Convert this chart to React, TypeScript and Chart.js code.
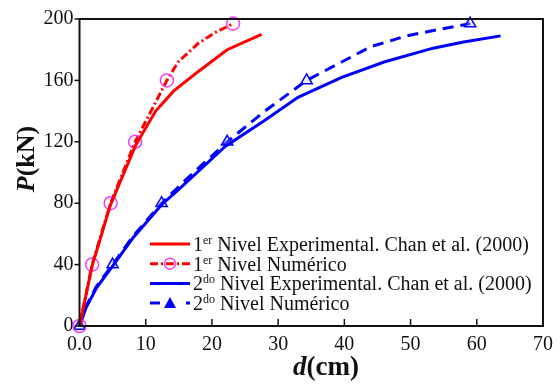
import React, { useEffect, useRef } from "react";
import { Chart, registerables } from "chart.js";

Chart.register(...registerables);

const redExpD = [0, 1.9, 4.6, 8.5, 11.5, 14.2, 18, 22.3, 27.5];
const redExpP = [0, 39, 78, 118, 140, 153, 166, 180, 190];

const redNumD = [0, 1.9, 4.7, 8.4, 13.2, 14.9, 17.9, 20.4, 22.3, 23.2];
const redNumP = [0, 40, 80, 120, 160, 172, 184, 191, 195, 197];
const redNumMarker = [1, 1, 1, 1, 1, 0, 0, 0, 0, 1];

const blueExpD = [0, 1, 2.6, 5, 8, 12.4, 15, 22, 28, 33, 39.6, 46, 53.4, 58, 63.6];
const blueExpP = [0, 12, 25, 39, 57, 79, 89, 117, 134, 149, 162, 172, 181, 185, 189];

const blueNumD = [0, 1, 2.6, 5, 8, 12.4, 16, 22.3, 28, 34.3, 39.6, 44, 49.4, 54, 59];
const blueNumP = [0, 13, 26, 40, 58, 80, 95, 120, 140, 160, 172, 182, 189, 193, 197];
const blueNumMarker = [1, 0, 0, 1, 0, 1, 0, 1, 0, 1, 0, 0, 0, 0, 1];

const xTicks = [0, 10, 20, 30, 40, 50, 60, 70];
const yTicks = [0, 40, 80, 120, 160, 200];

const legendNum = ["1", "1", "2", "2"];
const legendSup = ["er", "er", "do", "do"];
const legendRest = [
  " Nivel Experimental. Chan et al. (2000)",
  " Nivel Numérico",
  " Nivel Experimental. Chan et al. (2000)",
  " Nivel Numérico",
];

const SERIF = "Liberation Serif";
const RED = "#ff0000";
const MAGENTA = "#f040f0";
const BLUE = "#0000ff";

Chart.defaults.font.family = SERIF;

const pts = (d: number[], p: number[]) => d.map((x, i) => ({ x, y: p[i] }));

const decorPlugin = {
  id: "decor",
  afterDraw(chart: any) {
    const ctx = chart.ctx as CanvasRenderingContext2D;
    const a = chart.chartArea;
    const xs = chart.scales.x;
    const ys = chart.scales.y;
    ctx.save();
    ctx.strokeStyle = "#111";
    ctx.lineWidth = 2;
    ctx.strokeRect(a.left, a.top, a.right - a.left, a.bottom - a.top);
    ctx.lineWidth = 1.5;
    xTicks.forEach((v) => {
      const px = xs.getPixelForValue(v);
      ctx.beginPath();
      ctx.moveTo(px, a.bottom);
      ctx.lineTo(px, a.bottom - 7);
      ctx.stroke();
    });
    yTicks.forEach((v) => {
      const py = ys.getPixelForValue(v);
      ctx.beginPath();
      ctx.moveTo(a.left, py);
      ctx.lineTo(a.left - 5, py);
      ctx.stroke();
    });

    ctx.fillStyle = "#111";
    ctx.textBaseline = "middle";
    ctx.save();
    ctx.translate(27, 159);
    ctx.rotate(-Math.PI / 2);
    ctx.font = `italic bold 26px ${SERIF}`;
    const wP = ctx.measureText("P").width;
    ctx.font = `bold 26px ${SERIF}`;
    const wR = ctx.measureText("(kN)").width;
    let sx = -(wP + wR) / 2;
    ctx.textAlign = "left";
    ctx.font = `italic bold 26px ${SERIF}`;
    ctx.fillText("P", sx, 0);
    ctx.font = `bold 26px ${SERIF}`;
    ctx.fillText("(kN)", sx + wP, 0);
    ctx.restore();
    ctx.font = `italic bold 27px ${SERIF}`;
    const wd = ctx.measureText("d").width;
    ctx.font = `bold 27px ${SERIF}`;
    const wc = ctx.measureText("(cm)").width;
    sx = 326 - (wd + wc) / 2;
    ctx.textAlign = "left";
    ctx.font = `italic bold 27px ${SERIF}`;
    ctx.fillText("d", sx, 368);
    ctx.font = `bold 27px ${SERIF}`;
    ctx.fillText("(cm)", sx + wd, 368);

    const ds = chart.data.datasets;
    for (let i = 0; i < ds.length; i++) {
      const d = ds[i];
      const y = 244 + i * 19.7;
      ctx.save();
      ctx.strokeStyle = d.borderColor;
      ctx.lineWidth = d.borderWidth;
      ctx.setLineDash(d.borderDash || []);
      ctx.beginPath();
      ctx.moveTo(150, y);
      ctx.lineTo(190, y);
      ctx.stroke();
      ctx.setLineDash([]);
      if (d.legendMarker === "circle") {
        ctx.strokeStyle = MAGENTA;
        ctx.lineWidth = 1.5;
        ctx.beginPath();
        ctx.arc(170, y, 5.5, 0, Math.PI * 2);
        ctx.stroke();
      } else if (d.legendMarker === "triangle") {
        ctx.fillStyle = "#fff";
        ctx.fillRect(160, y - 7, 20, 14);
        ctx.fillStyle = BLUE;
        ctx.beginPath();
        ctx.moveTo(170, y - 6);
        ctx.lineTo(176, y + 5);
        ctx.lineTo(164, y + 5);
        ctx.closePath();
        ctx.fill();
      }
      ctx.restore();
      ctx.fillStyle = "#111";
      ctx.textAlign = "left";
      ctx.textBaseline = "alphabetic";
      let tx = 193;
      const base = y + 7;
      ctx.font = `20px ${SERIF}`;
      ctx.fillText(legendNum[i], tx, base);
      tx += ctx.measureText(legendNum[i]).width;
      ctx.font = `12px ${SERIF}`;
      ctx.fillText(legendSup[i], tx, base - 7);
      tx += ctx.measureText(legendSup[i]).width;
      ctx.font = `20px ${SERIF}`;
      ctx.fillText(legendRest[i], tx, base);
    }
    ctx.restore();
  },
};

export default function App() {
  const ref = useRef<HTMLCanvasElement | null>(null);
  useEffect(() => {
    if (!ref.current) return;
    const chart = new Chart(ref.current, {
      type: "scatter",
      data: {
        datasets: [
          {
            label: legendNum[0] + legendSup[0] + legendRest[0],
            data: pts(redExpD, redExpP),
            showLine: true,
            borderColor: RED,
            borderWidth: 3,
            pointRadius: 0,
            clip: false,
          } as any,
          {
            label: legendNum[1] + legendSup[1] + legendRest[1],
            data: pts(redNumD, redNumP),
            showLine: true,
            borderColor: RED,
            borderWidth: 3,
            borderDash: [8, 3, 2, 3],
            pointStyle: "circle",
            pointRadius: redNumMarker.map((m) => (m ? 6.5 : 0)),
            pointBorderColor: MAGENTA,
            pointBackgroundColor: "rgba(255,255,255,0)",
            pointBorderWidth: 1.5,
            legendMarker: "circle",
            clip: false,
          } as any,
          {
            label: legendNum[2] + legendSup[2] + legendRest[2],
            data: pts(blueExpD, blueExpP),
            showLine: true,
            borderColor: BLUE,
            borderWidth: 3,
            pointRadius: 0,
            clip: false,
          } as any,
          {
            label: legendNum[3] + legendSup[3] + legendRest[3],
            data: pts(blueNumD, blueNumP),
            showLine: true,
            borderColor: BLUE,
            borderWidth: 3,
            borderDash: [11, 7],
            pointStyle: "triangle",
            pointRadius: blueNumMarker.map((m) => (m ? 6.5 : 0)),
            pointBorderColor: BLUE,
            pointBackgroundColor: "rgba(200,200,255,0.3)",
            pointBorderWidth: 1.5,
            legendMarker: "triangle",
            clip: false,
          } as any,
        ],
      },
      options: {
        animation: false,
        responsive: false,
        maintainAspectRatio: false,
        font: { family: SERIF },
        layout: { padding: { left: 0, top: 19, right: 6, bottom: 0 } },
        plugins: { legend: { display: false }, tooltip: { enabled: false } },
        scales: {
          x: {
            type: "linear",
            min: 0,
            max: 70,
            afterFit: (s: any) => {
              s.height = 62;
            },
            afterBuildTicks: (s: any) => {
              s.ticks = xTicks.map((v) => ({ value: v }));
            },
            grid: { display: false, drawTicks: false },
            border: { display: false },
            ticks: {
              padding: 7,
              color: "#111",
              font: { family: SERIF, size: 20 },
              callback: (v: any) => (v === 0 ? "0.0" : String(v)),
              maxRotation: 0,
              autoSkip: false,
            },
          },
          y: {
            type: "linear",
            min: 0,
            max: 200,
            afterFit: (s: any) => {
              s.width = 79.5;
            },
            afterBuildTicks: (s: any) => {
              s.ticks = yTicks.map((v) => ({ value: v }));
            },
            grid: { display: false, drawTicks: false },
            border: { display: false },
            ticks: {
              padding: 6,
              color: "#111",
              font: { family: SERIF, size: 20 },
              autoSkip: false,
            },
          },
        },
      } as any,
      plugins: [decorPlugin],
    });
    return () => chart.destroy();
  }, []);
  return (
    <div style={{ position: "fixed", left: 0, top: 0, width: 560, height: 388, background: "#fff" }}>
      <canvas ref={ref} width={560} height={388} style={{ width: 560, height: 388, display: "block" }} />
    </div>
  );
}
